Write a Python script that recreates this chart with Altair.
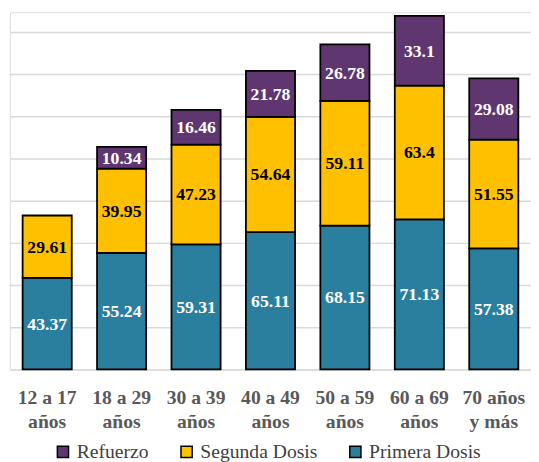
import altair as alt
import pandas as pd

categories = ["12 a 17\naños", "18 a 29\naños", "30 a 39\naños", "40 a 49\naños",
              "50 a 59\naños", "60 a 69\naños", "70 años\ny más"]
primera = [43.37, 55.24, 59.31, 65.11, 68.15, 71.13, 57.38]
segunda = [29.61, 39.95, 47.23, 54.64, 59.11, 63.4, 51.55]
refuerzo = [None, 10.34, 16.46, 21.78, 26.78, 33.1, 29.08]

series = ["Primera Dosis", "Segunda Dosis", "Refuerzo"]
legend_order = ["Refuerzo", "Segunda Dosis", "Primera Dosis"]
colors = ["#603670", "#FFC000", "#2A7F9E"]

rows = []
for i, c in enumerate(categories):
    for k, (s, vals) in enumerate(zip(series, [primera, segunda, refuerzo])):
        v = vals[i]
        if v is None:
            continue
        rows.append({"cat": c, "series": s, "value": v, "ord": k})
df = pd.DataFrame(rows)

FONT = "Liberation Serif, Times New Roman, DejaVu Serif, serif"

base = alt.Chart(df).transform_stack(
    stack="value", groupby=["cat"], as_=["y0", "y1"],
    sort=[alt.SortField("ord", order="ascending")]
).transform_calculate(mid="(datum.y0 + datum.y1) / 2")

xenc = alt.X("cat:N", sort=categories, title=None,
             scale=alt.Scale(paddingInner=0.34, paddingOuter=0.17),
             axis=alt.Axis(labelExpr="split(datum.label, '\\n')", labelAngle=0,
                           labelFont=FONT, labelFontSize=20, labelFontWeight="bold",
                           labelColor="#595959", labelLineHeight=24, labelPadding=19,
                           domain=False, ticks=False, grid=False, labelBaseline="top"))

bars = base.mark_bar(stroke="black", strokeWidth=1.8).encode(
    x=xenc,
    y=alt.Y("y0:Q", title=None, scale=alt.Scale(domain=[0, 169.3], nice=False),
            axis=alt.Axis(values=[0, 20, 40, 60, 80, 100, 120, 140, 160], labels=False,
                          ticks=False, domain=False, grid=True, gridColor="#d9d9d9",
                          gridWidth=1.5)),
    y2="y1:Q",
    color=alt.Color("series:N",
                    scale=alt.Scale(domain=legend_order, range=colors),
                    legend=alt.Legend(title=None, orient="none", direction="horizontal",
                                      legendX=44, legendY=438, symbolType="square",
                                      symbolSize=130, symbolStrokeColor="black",
                                      symbolStrokeWidth=1.5, symbolOpacity=1,
                                      labelFont=FONT, labelFontSize=20,
                                      labelColor="#404040", labelOffset=4,
                                      columnPadding=28, values=legend_order)),
)

labels = base.mark_text(font=FONT, fontSize=18, fontWeight="bold",
                        baseline="middle", dy=1).encode(
    x=alt.X("cat:N", sort=categories),
    y=alt.Y("mid:Q"),
    text=alt.Text("value:Q"),
    color=alt.condition(alt.datum.series == "Segunda Dosis",
                        alt.value("black"), alt.value("white")),
)

chart = alt.layer(bars, labels).properties(width=531, height=364).configure_view(
    stroke=None).configure(padding={"left": 2, "top": 0, "right": 0, "bottom": 0},
                           font=FONT)

chart.save("out.html", embed_options={"renderer": "svg", "actions": False})
